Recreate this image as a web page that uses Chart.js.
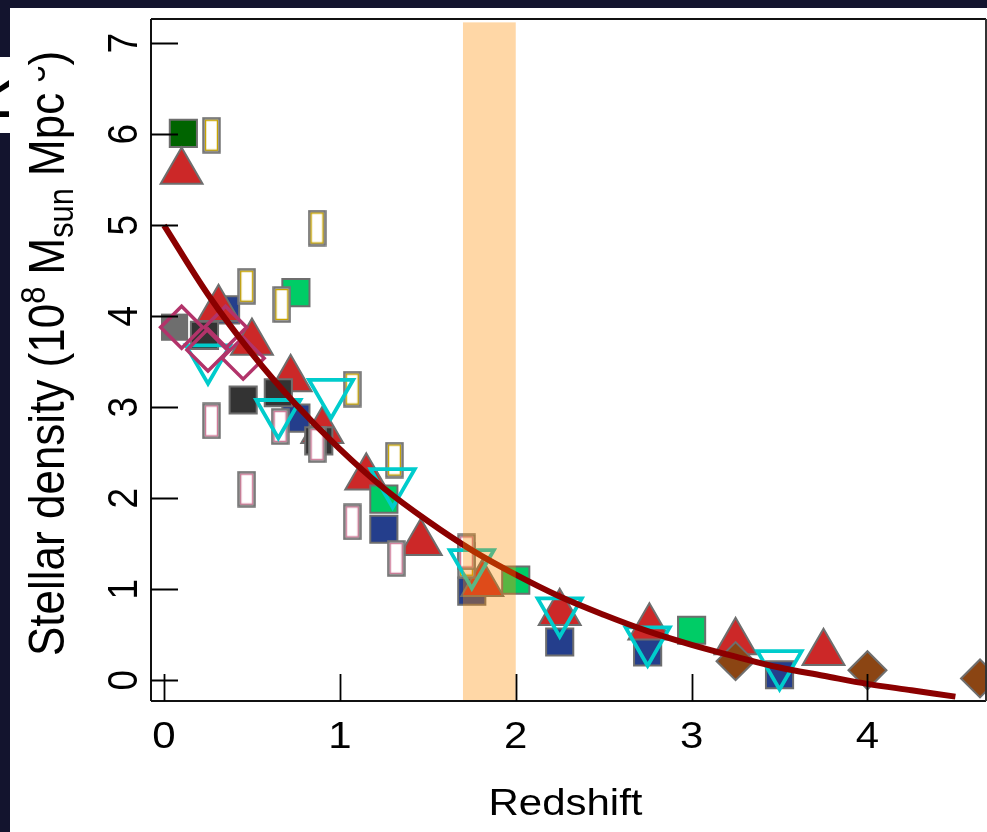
<!DOCTYPE html>
<html><head><meta charset="utf-8">
<script src="https://cdn.jsdelivr.net/npm/chart.js@4.4.0/dist/chart.umd.min.js"></script>
<style>html,body{margin:0;padding:0;background:#13142e;overflow:hidden}canvas{display:block}</style>
</head><body>
<canvas id="c" width="987" height="832"></canvas>
<script>
// ---- data ----
const xTicks = [0, 1, 2, 3, 4];
const yTicks = [0, 1, 2, 3, 4, 5, 6, 7];
const bandRange = [1.7, 2.0];

const curveZ = [0, 0.25, 0.5, 0.75, 1, 1.25, 1.5, 1.75, 2, 2.25, 2.5, 2.75, 3, 3.25, 3.5, 3.75, 4, 4.25, 4.5];
const curveDensity = [5.00, 4.24, 3.59, 3.03, 2.54, 2.11, 1.75, 1.43, 1.16, 0.92, 0.72, 0.54, 0.39, 0.26, 0.14, 0.05, -0.04, -0.11, -0.18];

const darkGreenZ = [0.11];
const darkGreenDensity = [6.01];
const graySqZ = [0.06];
const graySqDensity = [3.88];
const redTriZ = [0.10, 0.31, 0.50, 0.72, 0.90, 1.15, 1.46, 1.81, 2.25, 2.76, 3.25, 3.75];
const redTriDensity = [5.59, 4.08, 3.71, 3.31, 2.74, 2.23, 1.51, 1.06, 0.74, 0.58, 0.42, 0.30];
const blueSqZ = [0.35, 0.75, 1.25, 1.75, 2.25, 2.75, 3.50];
const blueSqDensity = [4.07, 2.88, 1.66, 0.98, 0.42, 0.31, 0.06];
const darkSqZ = [0.23, 0.45, 0.65, 0.88];
const darkSqDensity = [3.79, 3.08, 3.16, 2.63];
const greenSqZ = [0.75, 1.25, 2.00, 3.00];
const greenSqDensity = [4.26, 1.99, 1.10, 0.55];
const brownZ = [3.25, 4.00, 4.64];
const brownDensity = [0.21, 0.11, 0.02];
const magentaZ = [0.10, 0.25, 0.35, 0.45];
const magentaDensity = [3.88, 3.63, 3.88, 3.54];
const cyanZ = [0.25, 0.65, 0.95, 1.30, 1.75, 2.25, 2.75, 3.50];
const cyanDensity = [3.54, 2.94, 3.16, 2.18, 1.29, 0.76, 0.44, 0.18];
const goldRectZ = [0.27, 0.47, 0.67, 0.87, 1.07, 1.31, 1.72];
const goldRectDensity = [5.99, 4.33, 4.13, 4.97, 3.20, 2.42, 1.32];
const pinkRectZ = [0.27, 0.47, 0.66, 0.87, 1.07, 1.32, 1.72];
const pinkRectDensity = [2.85, 2.10, 2.79, 2.59, 1.74, 1.34, 1.41];

const xTitle = 'Redshift';
const yTitleParts = [
  {t: 'Stellar density (10', k: 'n'}, {t: '8', k: 'sup'}, {t: ' M', k: 'n'},
  {t: 'sun', k: 'sub'}, {t: ' Mpc', k: 'n'}, {t: '-3', k: 'supclip'}, {t: ')', k: 'n'}
];

// ---- helpers ----
const pts = (xs, ys) => xs.map((x, i) => ({x, y: ys[i]}));
const FONT = '"Liberation Sans", Arial, sans-serif';

function openRect(inner) {
  const c = document.createElement('canvas');
  c.width = 19; c.height = 37;
  const g = c.getContext('2d');
  g.fillStyle = '#ffffff'; g.fillRect(1, 1, 17, 35);
  g.strokeStyle = '#767676'; g.lineWidth = 2.5; g.strokeRect(1.5, 1.5, 16, 34);
  g.strokeStyle = inner; g.lineWidth = 1.3; g.strokeRect(3.6, 3.6, 11.8, 29.8);
  return c;
}
const goldRect = openRect('#c8a400');
const pinkRect = openRect('#d07a98');

const BORDER = '#6e6e6e';
function scatterSet(data, style, fill, border, bw, r, order, extra) {
  return Object.assign({
    type: 'scatter', data, order,
    pointStyle: style, pointRadius: r, pointHoverRadius: r,
    pointBackgroundColor: fill, pointBorderColor: border, pointBorderWidth: bw,
    pointHoverBorderWidth: bw
  }, extra || {});
}

const datasets = [
  {type: 'scatter', showLine: true, data: pts(curveZ, curveDensity), order: 0,
   borderColor: '#8b0000', borderWidth: 6, pointRadius: 0, tension: 0.35, fill: false},
  scatterSet(pts(magentaZ, magentaDensity), 'rectRot', 'rgba(0,0,0,0)', '#b2336a', 3.5, 21, 1),
  scatterSet(pts(cyanZ, cyanDensity), 'triangle', 'rgba(0,0,0,0)', '#00cccc', 3.8, 25.5, 2, {pointRotation: 180}),
  scatterSet(pts(pinkRectZ, pinkRectDensity), pinkRect, '#fff', BORDER, 0, 10, 3),
  scatterSet(pts(goldRectZ, goldRectDensity), goldRect, '#fff', BORDER, 0, 10, 4),
  scatterSet(pts(brownZ, brownDensity), 'rectRot', '#8b4513', BORDER, 2, 19, 5, {clip: false}),
  scatterSet(pts(darkSqZ, darkSqDensity), 'rect', '#333333', BORDER, 2, 19.2, 6),
  scatterSet(pts(greenSqZ, greenSqDensity), 'rect', '#00cc66', BORDER, 2, 19.2, 7),
  scatterSet(pts(redTriZ, redTriDensity), 'triangle', '#cc2828', BORDER, 2, 24.2, 8),
  scatterSet(pts(blueSqZ, blueSqDensity), 'rect', '#243e8c', BORDER, 2, 19.2, 9),
  scatterSet(pts(darkGreenZ, darkGreenDensity), 'rect', '#006400', BORDER, 2, 19.2, 10),
  scatterSet(pts(graySqZ, graySqDensity), 'rect', '#6e6e6e', '#6e6e6e', 0, 19.2, 11)
];

function drawRotLabel(ctx, text, x, y, font, sy) {
  ctx.save();
  ctx.translate(x, y);
  ctx.scale(1, sy);
  ctx.rotate(-Math.PI / 2);
  ctx.font = font;
  ctx.textAlign = 'center';
  ctx.textBaseline = 'alphabetic';
  ctx.fillText(text, 0, 0);
  ctx.restore();
}

const decor = {
  id: 'decor',
  beforeDraw(chart) {
    const ctx = chart.ctx;
    ctx.save();
    ctx.fillStyle = '#13142e'; ctx.fillRect(0, 0, 987, 832);
    ctx.fillStyle = '#ffffff'; ctx.fillRect(10, 8, 977, 824);
    ctx.fillRect(0, 57, 10, 76);
    ctx.beginPath(); ctx.rect(0, 57, 10, 76); ctx.clip();
    ctx.fillStyle = '#000';
    ctx.translate(9, 122); ctx.rotate(-Math.PI / 2);
    ctx.font = '62px ' + FONT; ctx.textBaseline = 'alphabetic';
    ctx.fillText('R', 0, 0);
    ctx.restore();
  },
  afterDatasetsDraw(chart) {
    const ctx = chart.ctx, xs = chart.scales.x, ys = chart.scales.y, a = chart.chartArea;
    const x0 = xs.getPixelForValue(bandRange[0]), x1 = xs.getPixelForValue(bandRange[1]);
    const yt = ys.getPixelForValue(7.23);
    ctx.save();
    ctx.fillStyle = 'rgba(255,140,0,0.35)';
    ctx.fillRect(x0, yt, x1 - x0, a.bottom - yt);
    ctx.restore();
  },
  afterDraw(chart) {
    const ctx = chart.ctx, xs = chart.scales.x, ys = chart.scales.y, a = chart.chartArea;
    ctx.save();
    // frame
    ctx.lineWidth = 2;
    ctx.strokeStyle = '#111';
    ctx.beginPath();
    ctx.moveTo(a.left, a.top); ctx.lineTo(a.right, a.top);
    ctx.moveTo(a.left, a.top); ctx.lineTo(a.left, a.bottom);
    ctx.moveTo(a.left, a.bottom); ctx.lineTo(a.right, a.bottom);
    ctx.stroke();
    ctx.strokeStyle = '#333';
    ctx.beginPath(); ctx.moveTo(a.right, a.top); ctx.lineTo(a.right, a.bottom); ctx.stroke();
    // inside ticks
    ctx.strokeStyle = '#000'; ctx.lineWidth = 1.8;
    ctx.beginPath();
    xTicks.forEach(v => { const px = Math.round(xs.getPixelForValue(v)) + 0.5; ctx.moveTo(px, a.bottom); ctx.lineTo(px, a.bottom - 27); });
    yTicks.forEach(v => { const py = Math.round(ys.getPixelForValue(v)) + 0.5; ctx.moveTo(a.left, py); ctx.lineTo(a.left + 27, py); });
    ctx.stroke();
    // tick labels
    ctx.fillStyle = '#000';
    const tf = '42px ' + FONT;
    xTicks.forEach(v => {
      ctx.save();
      ctx.translate(xs.getPixelForValue(v), 748);
      ctx.scale(1, 0.88);
      ctx.font = tf; ctx.textAlign = 'center'; ctx.textBaseline = 'alphabetic';
      ctx.fillText(String(v), 0, 0);
      ctx.restore();
    });
    yTicks.forEach(v => drawRotLabel(ctx, String(v), 136.5, ys.getPixelForValue(v), tf, 0.88));
    // x title
    ctx.save();
    ctx.translate((a.left + a.right) / 2 - 3, 815);
    ctx.scale(1, 0.88);
    ctx.font = '42px ' + FONT; ctx.textAlign = 'center'; ctx.textBaseline = 'alphabetic';
    ctx.fillText(xTitle, 0, 0);
    ctx.restore();
    // y title (rich text)
    ctx.save();
    ctx.translate(64, 656);
    ctx.scale(1, 0.88);
    ctx.rotate(-Math.PI / 2);
    ctx.textBaseline = 'alphabetic'; ctx.textAlign = 'left';
    const F = 50;
    let cx = 0;
    yTitleParts.forEach(p => {
      let size = F, dy = 0;
      if (p.k === 'sup' || p.k === 'supclip') { size = F * 0.7; dy = -F * 0.38; }
      if (p.k === 'sub') { size = F * 0.7; dy = F * 0.18; }
      ctx.font = size + 'px ' + FONT;
      const w = ctx.measureText(p.t).width;
      if (p.k === 'supclip') {
        ctx.save();
        ctx.beginPath(); ctx.rect(cx, -F * 0.52, w + 4, F); ctx.clip();
        ctx.fillText(p.t, cx, dy);
        ctx.restore();
      } else {
        ctx.fillText(p.t, cx, dy);
      }
      cx += w;
    });
    ctx.restore();
    ctx.restore();
  }
};

new Chart(document.getElementById('c'), {
  type: 'scatter',
  data: {datasets},
  options: {
    responsive: false, animation: false, devicePixelRatio: 1,
    layout: {autoPadding: false, padding: {left: 151, top: 19, right: 1, bottom: 131}},
    plugins: {legend: {display: false}, tooltip: {enabled: false}},
    events: [],
    scales: {
      x: {type: 'linear', min: -0.074, max: 4.674,
          ticks: {display: false, stepSize: 1}, grid: {display: false}, border: {display: false},
          afterFit: s => { s.height = 0; }},
      y: {type: 'linear', min: -0.228, max: 7.267,
          ticks: {display: false, stepSize: 1}, grid: {display: false}, border: {display: false},
          afterFit: s => { s.width = 0; }}
    }
  },
  plugins: [decor]
});
</script>
</body></html>
